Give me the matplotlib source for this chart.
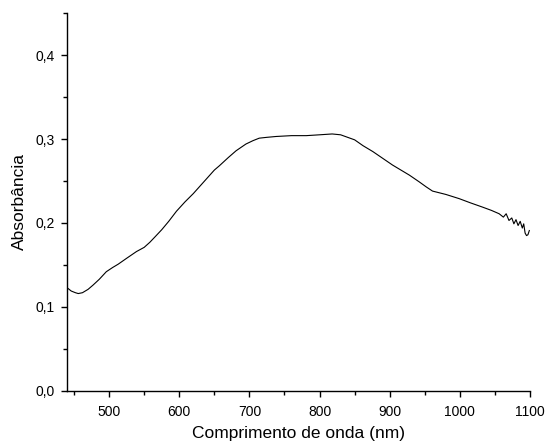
import matplotlib
matplotlib.use("Agg")
import matplotlib.pyplot as plt
from matplotlib.ticker import MultipleLocator, FuncFormatter

plt.rcParams["font.family"] = ["Liberation Sans", "DejaVu Sans"]

# UV-Vis absorption spectrum
wavelength = [440, 446, 452, 456, 462, 470, 477, 486, 496, 505, 513, 525, 539, 550,
              558, 566, 575, 585, 596, 608, 620, 635, 650, 657, 670, 681, 695, 705,
              714, 725, 738, 760, 781, 800, 818, 830, 840, 850, 862, 876, 890, 904,
              914, 928, 942, 952, 961, 980, 999, 1015, 1032, 1045, 1056, 1062, 1066,
              1070, 1074, 1077, 1080, 1083, 1086, 1089, 1091, 1093, 1095, 1097, 1099]
absorb = [0.123, 0.119, 0.117, 0.116, 0.117, 0.121, 0.126, 0.133, 0.142, 0.147, 0.151,
          0.158, 0.166, 0.171, 0.177, 0.184, 0.192, 0.202, 0.214, 0.225, 0.235, 0.249,
          0.263, 0.268, 0.278, 0.286, 0.294, 0.298, 0.301, 0.302, 0.303, 0.304, 0.304,
          0.305, 0.306, 0.305, 0.302, 0.299, 0.292, 0.285, 0.277, 0.269, 0.264, 0.257,
          0.249, 0.243, 0.238, 0.234, 0.229, 0.224, 0.219, 0.215, 0.211, 0.207, 0.211,
          0.203, 0.206, 0.199, 0.204, 0.197, 0.202, 0.194, 0.199, 0.188, 0.185, 0.186,
          0.191]

x_major = 100
x_minor = 50
y_major = 0.1
y_minor = 0.05

fig = plt.figure(figsize=(5.48, 4.44), dpi=100)
ax = fig.add_axes([0.1223, 0.1194, 0.8449, 0.8513])
ax.plot(wavelength, absorb, color="black", lw=0.8)

ax.set_xlim(440, 1100)
ax.set_ylim(0, 0.45)
ax.xaxis.set_major_locator(MultipleLocator(x_major))
ax.xaxis.set_minor_locator(MultipleLocator(x_minor))
ax.yaxis.set_major_locator(MultipleLocator(y_major))
ax.yaxis.set_minor_locator(MultipleLocator(y_minor))
ax.yaxis.set_major_formatter(FuncFormatter(lambda v, p: f"{v:.1f}".replace(".", ",")))

for s in ["top", "right"]:
    ax.spines[s].set_visible(False)
for s in ["left", "bottom"]:
    ax.spines[s].set_linewidth(1.0)
ax.tick_params(which="major", direction="out", length=4.5, width=1, labelsize=10)
ax.tick_params(axis="x", which="major", pad=5.5)
ax.tick_params(axis="y", which="major", pad=4.5)
ax.tick_params(which="minor", direction="out", length=3, width=1)

ax.set_xlabel("Comprimento de onda (nm)", fontsize=12.5, labelpad=5)
ax.set_ylabel("Absorbância", fontsize=12.5, labelpad=6)

fig.savefig("out.png", dpi=100)
